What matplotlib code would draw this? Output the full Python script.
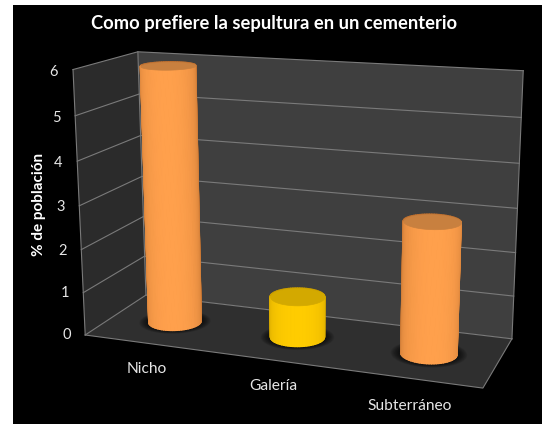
import numpy as np
import matplotlib
matplotlib.use('Agg')
import matplotlib.pyplot as plt
from matplotlib.patches import Rectangle
from mpl_toolkits.mplot3d import proj3d
from mpl_toolkits.mplot3d.art3d import Poly3DCollection

categories = ['Nicho', 'Galería', 'Subterráneo']
values = [5.95, 0.95, 2.95]
z_ticks = [0, 1, 2, 3, 4, 5, 6]

title = 'Como prefiere la sepultura en un cementerio'
y_label = '% de población'

W, H = 548, 424
plt.rcParams['font.family'] = ['Lato', 'DejaVu Sans']

ORANGE = (np.array([255, 160, 76]) / 255, np.array([190, 112, 48]) / 255, '#c8803f')
YELLOW = (np.array([255, 204, 0]) / 255, np.array([200, 156, 0]) / 255, '#d3a900')
bar_colors = [ORANGE, YELLOW, ORANGE]

x0, x1 = 0.5, 3.5
y0, y1 = 0.0, 1.0
z0, z1 = 0, 6
radius = 0.2
elev, azim = 14.482, -69.757

fig = plt.figure(figsize=(W / 100, H / 100), dpi=100, facecolor='white')
fig.add_artist(Rectangle((13 / W, 0), 529 / W, 419 / H, transform=fig.transFigure,
                         facecolor='black', edgecolor='none', zorder=-5))

# square axes, placed so that the wall corners land where they are in the picture
S = 502.55
ax = fig.add_axes([39.13 / W, -41.15 / H, S / W, S / H], projection='3d', computed_zorder=False)
ax.patch.set_alpha(0)
ax.set_axis_off()
ax.set_xlim(x0, x1)
ax.set_ylim(y0, y1)
ax.set_zlim(z0, z1)
ax.set_box_aspect((1, 0.333, 0.662))
ax.view_init(elev=elev, azim=azim, roll=0.123)
ax.set_proj_type('persp', focal_length=0.473)

# walls and floor
walls = [
    ([(x0, y0, z0), (x0, y1, z0), (x0, y1, z1), (x0, y0, z1)], '#2b2b2b'),
    ([(x0, y1, z0), (x1, y1, z0), (x1, y1, z1), (x0, y1, z1)], '#3f3f3f'),
    ([(x0, y0, z0), (x1, y0, z0), (x1, y1, z0), (x0, y1, z0)], '#2f2f2f'),
]
for verts, col in walls:
    ax.add_collection3d(Poly3DCollection([verts], facecolors=col, edgecolors='none', zorder=1))

line_col = '#7a7a7a'
for z in z_ticks:
    ax.plot([x0, x0, x1], [y0, y1, y1], [z, z, z], color=line_col, lw=0.8, zorder=2)
ax.plot([x0, x0], [y0, y0], [z0, z1], color=line_col, lw=0.8, zorder=2)
ax.plot([x0, x0], [y1, y1], [z0, z1], color=line_col, lw=0.8, zorder=2)
ax.plot([x1, x1], [y1, y1], [z0, z1], color=line_col, lw=0.8, zorder=2)
ax.plot([x0, x1, x1], [y0, y0, y1], [z0, z0, z0], color=line_col, lw=0.8, zorder=2)

# cylinders
theta = np.linspace(0, 2 * np.pi, 73)
view = np.deg2rad(azim)
for i, (val, cols) in enumerate(zip(values, bar_colors)):
    cx = i + 1
    cy = 0.5
    mid, edge, cap = cols

    # soft shadow on the floor
    for k in np.linspace(1.36, 1.02, 10):
        disc = list(zip(cx + k * radius * np.cos(theta), cy + k * radius * np.sin(theta),
                        np.zeros_like(theta)))
        ax.add_collection3d(Poly3DCollection([disc], facecolors=(0, 0, 0, 0.09),
                                             edgecolors='none', zorder=3 + i))

    px = cx + radius * np.cos(theta)
    py = cy + radius * np.sin(theta)
    side = []
    side_cols = []
    for j in range(len(theta) - 1):
        side.append([(px[j], py[j], 0), (px[j + 1], py[j + 1], 0),
                     (px[j + 1], py[j + 1], val), (px[j], py[j], val)])
        tm = (theta[j] + theta[j + 1]) / 2
        # lit from the viewer's side, darker towards the silhouette
        shade = np.clip(np.cos(tm - view), 0, 1) ** 0.45
        side_cols.append(tuple(edge + (mid - edge) * shade))
    ax.add_collection3d(Poly3DCollection(side, facecolors=side_cols, edgecolors=side_cols,
                                         linewidths=1.1, zorder=4 + i))
    top = list(zip(px, py, np.full_like(theta, val)))
    ax.add_collection3d(Poly3DCollection([top], facecolors=cap, edgecolors=cap,
                                         linewidths=0.5, zorder=5 + i))


def label_at(x, y, z, s, size):
    # plain 2D text at the projected spot of a 3D point
    u, v, _ = proj3d.proj_transform(x, y, z, ax.get_proj())
    ax.text2D(u, v, s, transform=ax.transData, color='#e6e6e6', fontsize=size,
              ha='center', va='center', zorder=9)


for z in z_ticks:
    label_at(x0 - 0.155, y0, z - 0.07, str(z), 10.5)
for i, name in enumerate(categories):
    label_at(i + 1, y0, -0.6, name, 11.2)

fig.text(274.5 / W, 1 - 24 / H, title, color='white', fontsize=13.2, fontweight='bold',
         ha='center', va='center')
fig.text(39 / W, 1 - 204.5 / H, y_label, color='white', fontsize=11, fontweight='bold',
         rotation=90, ha='center', va='center')

fig.savefig('out.png', dpi=100, facecolor='white')
